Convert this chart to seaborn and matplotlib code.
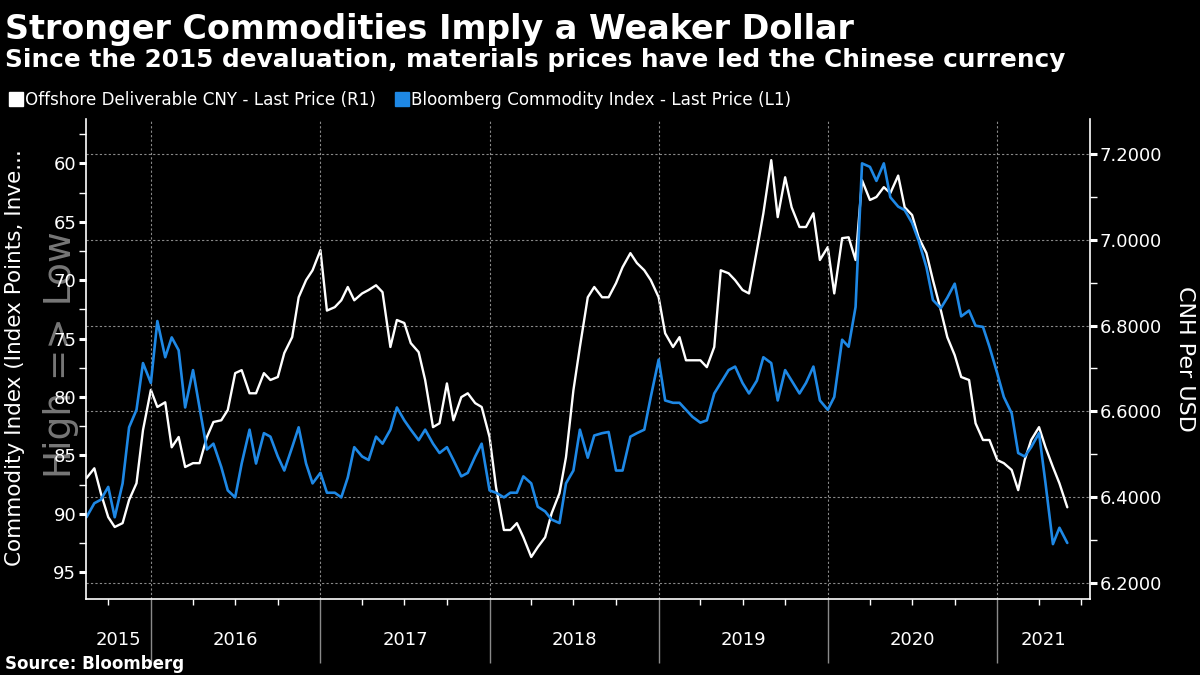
import pandas as pd
import seaborn as sns
import matplotlib
matplotlib.use("Agg")
from matplotlib import pyplot as plt
import matplotlib.dates as mdates
import matplotlib.transforms as mtransforms
from matplotlib.ticker import MultipleLocator, FormatStrFormatter, NullFormatter
from matplotlib.lines import Line2D

# Datas: dia 1 e 15 de cada mês
datas = pd.date_range("2015-08-15", "2021-06-01", freq="SMS")

# Offshore CNY (eixo direito, CNH por USD)
cnh_2015 = [6.444, 6.467, 6.409, 6.353, 6.330, 6.339, 6.393, 6.432, 6.556]
cnh_2016 = [6.650, 6.610, 6.621, 6.516, 6.540, 6.470, 6.479, 6.479, 6.540, 6.575, 6.579, 6.603,
            6.689, 6.696, 6.642, 6.642, 6.689, 6.673, 6.680, 6.736, 6.773, 6.866, 6.906, 6.929]
cnh_2017 = [6.976, 6.835, 6.843, 6.859, 6.890, 6.859, 6.875, 6.883, 6.894, 6.878, 6.750, 6.813,
            6.806, 6.759, 6.738, 6.673, 6.563, 6.572, 6.665, 6.579, 6.633, 6.642, 6.619, 6.610]
cnh_2018 = [6.540, 6.423, 6.323, 6.323, 6.339, 6.306, 6.260, 6.283, 6.306, 6.362, 6.409, 6.493,
            6.649, 6.750, 6.866, 6.890, 6.866, 6.866, 6.899, 6.936, 6.969, 6.946, 6.929, 6.906]
cnh_2019 = [6.866, 6.782, 6.750, 6.773, 6.719, 6.719, 6.719, 6.703, 6.750, 6.929, 6.922, 6.906,
            6.883, 6.875, 6.976, 7.062, 7.186, 7.053, 7.146, 7.076, 7.030, 7.030, 7.062, 6.953]
cnh_2020 = [6.983, 6.875, 7.004, 7.006, 6.953, 7.139, 7.093, 7.100, 7.123, 7.109, 7.150, 7.076,
            7.058, 7.006, 6.969, 6.906, 6.836, 6.773, 6.731, 6.680, 6.673, 6.572, 6.533, 6.533]
cnh_2021 = [6.486, 6.479, 6.463, 6.416, 6.486, 6.533, 6.563, 6.516, 6.470, 6.432, 6.376]

# Bloomberg Commodity Index (eixo esquerdo, invertido)
bcom_2015 = [90.3, 89.1, 88.8, 87.7, 90.3, 87.4, 82.6, 81.1, 77.1]
bcom_2016 = [78.8, 73.5, 76.6, 74.9, 76.0, 80.9, 77.7, 80.9, 84.5, 84.0, 86.0, 88.0,
             88.6, 85.7, 82.8, 85.7, 83.1, 83.4, 85.1, 86.3, 84.3, 82.6, 85.7, 87.4]
bcom_2017 = [86.5, 88.2, 88.2, 88.6, 86.9, 84.3, 85.1, 85.4, 83.4, 84.0, 82.8, 80.9,
             82.0, 82.8, 83.7, 82.8, 84.0, 84.8, 84.3, 85.4, 86.8, 86.5, 85.1, 84.0]
bcom_2018 = [88.0, 88.2, 88.6, 88.2, 88.2, 86.8, 87.4, 89.4, 89.8, 90.5, 90.8, 87.4,
             86.3, 82.8, 85.2, 83.3, 83.1, 83.0, 86.3, 86.3, 83.4, 83.1, 82.8, 80.0]
bcom_2019 = [76.8, 80.3, 80.5, 80.5, 81.1, 81.7, 82.2, 82.0, 79.7, 78.8, 77.7, 77.4,
             78.8, 79.7, 78.6, 76.6, 77.1, 80.3, 77.7, 78.6, 79.7, 78.8, 77.4, 80.3]
bcom_2020 = [81.1, 80.0, 75.1, 75.7, 72.3, 60.0, 60.3, 61.5, 60.0, 62.9, 63.7, 64.0,
             65.1, 66.6, 68.9, 71.7, 72.4, 71.5, 70.3, 73.1, 72.6, 73.9, 74.0, 75.7]
bcom_2021 = [78.0, 80.0, 81.4, 84.8, 85.1, 84.3, 83.1, 87.4, 92.6, 91.2, 92.5]

cnh = cnh_2015 + cnh_2016 + cnh_2017 + cnh_2018 + cnh_2019 + cnh_2020 + cnh_2021
bcom = bcom_2015 + bcom_2016 + bcom_2017 + bcom_2018 + bcom_2019 + bcom_2020 + bcom_2021
anos = [2015, 2016, 2017, 2018, 2019, 2020, 2021]

titulo = "Stronger Commodities Imply a Weaker Dollar"
subtitulo = "Since the 2015 devaluation, materials prices have led the Chinese currency"
legendas = ["Offshore Deliverable CNY - Last Price (R1)", "Bloomberg Commodity Index - Last Price (L1)"]

AZUL = "#1e88e5"
CINZA = "#8a8a8a"

df = pd.DataFrame({"data": datas, "cnh": cnh, "bcom": bcom})

sns.set_style("dark", {"axes.facecolor": "black", "figure.facecolor": "black"})
plt.rcParams["font.family"] = ["DejaVu Sans"]
plt.rcParams["text.color"] = "white"

fig = plt.figure(figsize=(12, 6.75), dpi=100, facecolor="black")
ax = fig.add_axes([86 / 1200, 1 - 599 / 675, (1090 - 86) / 1200, (599 - 119) / 675])
ax2 = ax.twinx()

# Linhas
sns.lineplot(data=df, x="data", y="cnh", ax=ax2, color="white", lw=1.7)
sns.lineplot(data=df, x="data", y="bcom", ax=ax, color=AZUL, lw=1.9)
ax.set_zorder(ax2.get_zorder() + 1)
ax.patch.set_visible(False)

# Limites
inicio, fim = pd.Timestamp("2015-08-14"), pd.Timestamp("2021-07-20")
ax.set_xlim(inicio, fim)
ax.set_ylim(97.3, 56.2)
ax2.set_ylim(6.162, 7.282)

# Eixo x: anos e trimestres
ax.xaxis.set_major_locator(mdates.YearLocator())
ax.xaxis.set_minor_locator(mdates.MonthLocator(bymonth=[1, 4, 7, 10]))
ax.xaxis.set_major_formatter(NullFormatter())
ax.tick_params(axis="x", which="major", bottom=True, length=46, width=1, color=CINZA,
               direction="out")
ax.tick_params(axis="x", which="minor", bottom=True, length=4, width=1, color="white",
               direction="out")
trans = mtransforms.blended_transform_factory(ax.transData, ax.transAxes)
for ano in anos:
    a = max(pd.Timestamp(f"{ano}-01-01"), inicio)
    b = min(pd.Timestamp(f"{ano + 1}-01-01"), fim)
    ax.text(a + (b - a) / 2, -0.085, str(ano), transform=trans, ha="center", va="center",
            color="white", fontsize=13)

# Eixo esquerdo
ax.yaxis.set_major_locator(MultipleLocator(5))
ax.yaxis.set_minor_locator(MultipleLocator(2.5))
ax.tick_params(axis="y", which="major", left=True, length=5, width=2.2, color="white",
               labelcolor="white", labelsize=13, pad=2)
ax.tick_params(axis="y", which="minor", left=True, length=5, width=1, color="white")
ax.set_xlabel("")
ax.set_ylabel("")

# Eixo direito
ax2.yaxis.set_major_locator(MultipleLocator(0.2))
ax2.yaxis.set_minor_locator(MultipleLocator(0.1))
ax2.yaxis.set_major_formatter(FormatStrFormatter("%.4f"))
ax2.tick_params(axis="y", which="major", right=True, length=5, width=2.2, color="white",
                labelcolor="white", labelsize=13, pad=2)
ax2.tick_params(axis="y", which="minor", right=True, length=5, width=1, color="white")
ax2.set_ylabel("")

# Grades pontilhadas
ax.grid(False)
ax2.grid(False)
ax.grid(axis="x", which="major", color=CINZA, linestyle=(0, (2, 2)), lw=0.8)
ax2.grid(axis="y", which="major", color=CINZA, linestyle=(0, (2, 2)), lw=0.8)

# Bordas
for s in ["top", "right"]:
    ax.spines[s].set_visible(False)
for s in ["top", "left", "bottom"]:
    ax2.spines[s].set_visible(False)
for s in ["left", "bottom"]:
    ax.spines[s].set_color("white")
    ax.spines[s].set_linewidth(1.2)
ax2.spines["right"].set_color("white")
ax2.spines["right"].set_linewidth(1.2)

# Rótulos dos eixos ("High => Low" fica por trás, como marca d'água)
fig.text(61 / 1200, 1 - 355 / 675, "High => Low", rotation=90, ha="center", va="center",
         color="#777777", fontsize=27, zorder=0)
fig.text(15 / 1200, 1 - 358 / 675, "Commodity Index (Index Points, Inve...", rotation=90,
         ha="center", va="center", color="white", fontsize=15.5)
fig.text(1185 / 1200, 1 - 359 / 675, "CNH Per USD", rotation=270, ha="center", va="center",
         color="white", fontsize=16)

# Títulos
fig.text(5 / 1200, 1 - 39.5 / 675, titulo, ha="left", va="baseline", fontsize=24,
         fontweight="bold", color="white")
fig.text(5 / 1200, 1 - 67 / 675, subtitulo, ha="left", va="baseline", fontsize=17.8,
         fontweight="bold", color="white")
fig.text(5 / 1200, 1 - 669 / 675, "Source: Bloomberg", ha="left", va="baseline", fontsize=12,
         fontweight="bold", color="white")

# Legenda
marcas = [Line2D([], [], marker="s", color="white", ls="none", ms=10),
          Line2D([], [], marker="s", color=AZUL, ls="none", ms=10)]
fig.legend(marcas, legendas, loc="center left", bbox_to_anchor=(0.0, 1 - 100 / 675), ncol=2,
           frameon=False, fontsize=12.1, labelcolor="white", handlelength=0.7,
           handletextpad=0.2, columnspacing=1.2, borderaxespad=0.2)

plt.savefig("out.png", dpi=100, facecolor="black")
plt.close()
